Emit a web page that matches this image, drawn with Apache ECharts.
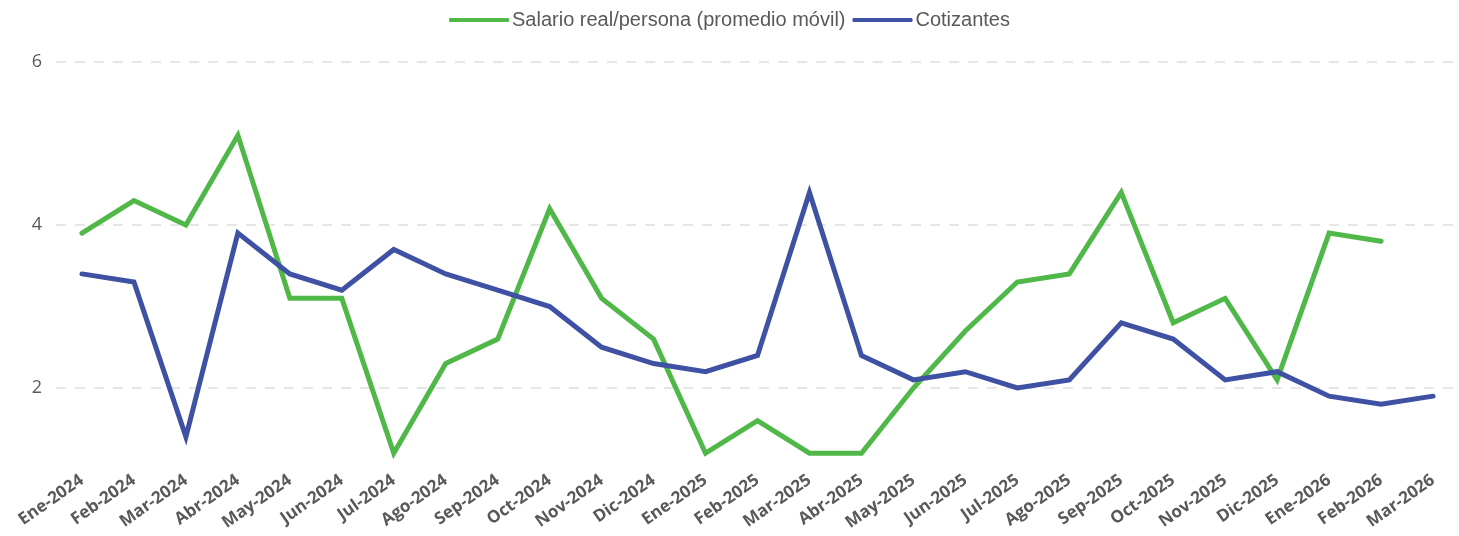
<!DOCTYPE html>
<html>
<head>
<meta charset="utf-8">
<script src="https://cdn.jsdelivr.net/npm/echarts@6/dist/echarts.min.js"></script>
<style>
  html, body { margin: 0; padding: 0; background: #fff; }
  #chart { width: 1459px; height: 536px; }
</style>
</head>
<body>
<div id="chart"></div>
<script>
// meses
var categorias = ['Ene-2024','Feb-2024','Mar-2024','Abr-2024','May-2024','Jun-2024','Jul-2024','Ago-2024','Sep-2024',
  'Oct-2024','Nov-2024','Dic-2024','Ene-2025','Feb-2025','Mar-2025','Abr-2025','May-2025','Jun-2025','Jul-2025',
  'Ago-2025','Sep-2025','Oct-2025','Nov-2025','Dic-2025','Ene-2026','Feb-2026','Mar-2026'];

var salarioReal = [3.9, 4.3, 4.0, 5.1, 3.1, 3.1, 1.2, 2.3, 2.6, 4.2, 3.1, 2.6, 1.2, 1.6, 1.2, 1.2, 2.0, 2.7, 3.3,
  3.4, 4.4, 2.8, 3.1, 2.1, 3.9, 3.8, null];

var cotizantes = [3.4, 3.3, 1.4, 3.9, 3.4, 3.2, 3.7, 3.4, 3.2, 3.0, 2.5, 2.3, 2.2, 2.4, 4.4, 2.4, 2.1, 2.2, 2.0,
  2.1, 2.8, 2.6, 2.1, 2.2, 1.9, 1.8, 1.9];

var ticksY = [2, 4, 6];

var chart = echarts.init(document.getElementById('chart'));

function lineSerie(nombre, datos, color) {
  return {
    name: nombre,
    type: 'line',
    data: datos,
    symbol: 'none',
    connectNulls: false,
    lineStyle: { width: 5, color: color, cap: 'round', join: 'miter' },
    itemStyle: { color: color }
  };
}

chart.setOption({
  animation: false,
  legend: {
    top: 5,
    left: 'center',
    icon: 'roundRect',
    itemWidth: 60,
    itemHeight: 4,
    itemGap: 7,
    textStyle: { fontFamily: 'Liberation Sans', fontSize: 20, color: '#595959', padding: [0, 0, 0, -2] }
  },
  grid: { left: 56, right: 0, top: 62, bottom: 66.5, containLabel: false },
  xAxis: {
    type: 'category',
    data: categorias,
    boundaryGap: true,
    axisLine: { show: false },
    axisTick: { show: false },
    axisLabel: {
      interval: 0,
      rotate: 35,
      margin: 9,
      fontFamily: 'Open Sans',
      fontWeight: 'bold',
      fontSize: 17,
      color: '#595959'
    }
  },
  yAxis: {
    type: 'value',
    min: 1,
    max: 6,
    axisLine: { show: false },
    axisTick: { show: false, customValues: ticksY },
    axisLabel: {
      customValues: ticksY,
      margin: 14,
      fontFamily: 'Open Sans',
      fontSize: 18,
      color: '#595959'
    },
    splitLine: { lineStyle: { color: '#e6e6e6', width: 2, type: [10, 9] } }
  },
  series: [
    lineSerie('Salario real/persona (promedio móvil)', salarioReal, '#4fb848'),
    lineSerie('Cotizantes', cotizantes, '#3f51a3')
  ]
});
</script>
</body>
</html>
